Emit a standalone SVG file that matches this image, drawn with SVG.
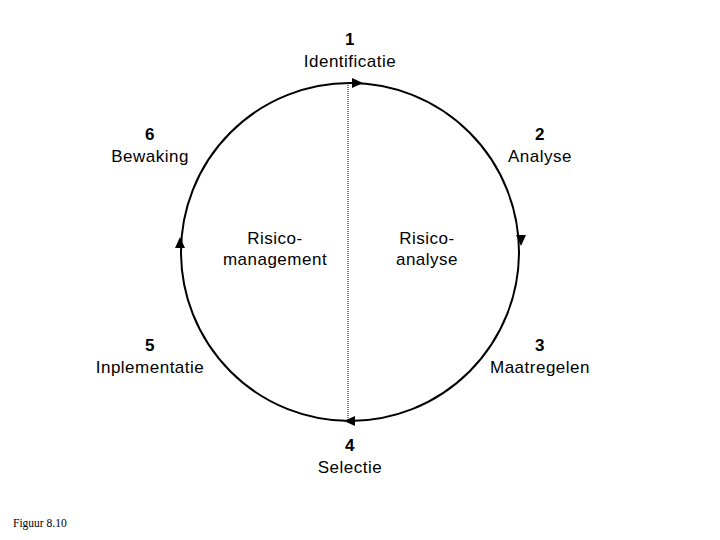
<svg xmlns="http://www.w3.org/2000/svg" width="720" height="540" viewBox="0 0 720 540">
<style>
.t{font-family:"Liberation Sans",Arial,sans-serif;font-size:17px;letter-spacing:0.5px;fill:#000;text-anchor:middle}
.n{font-weight:bold}
.cap{font-family:"Liberation Serif","Times New Roman",serif;font-size:11.5px;fill:#000}
.ah{fill:#000}
</style>
<rect width="720" height="540" fill="#fff"/>
<g id="connectors">
<circle cx="350" cy="252" r="169" fill="none" stroke="#000" stroke-width="2"/>
<line x1="348" y1="85" x2="348" y2="420" stroke="#000" stroke-width="1" stroke-dasharray="1,1"/>
<polygon class="ah" points="363,83 352,78 352,88"/>
<polygon class="ah" points="521,246 516,235 526,235"/>
<polygon class="ah" points="344,421 355,416 355,426"/>
<polygon class="ah" points="180,237 175,248 185,248"/>
</g>
<g id="n1"><text class="t n" x="350" y="45">1</text><text class="t" x="350" y="67">Identificatie</text></g>
<g id="n2"><text class="t n" x="540" y="140">2</text><text class="t" x="540" y="162">Analyse</text></g>
<g id="n3"><text class="t n" x="540" y="351">3</text><text class="t" x="540" y="373">Maatregelen</text></g>
<g id="n4"><text class="t n" x="350" y="451">4</text><text class="t" x="350" y="473">Selectie</text></g>
<g id="n5"><text class="t n" x="150" y="351">5</text><text class="t" x="150" y="373">Inplementatie</text></g>
<g id="n6"><text class="t n" x="150" y="140">6</text><text class="t" x="150" y="162">Bewaking</text></g>
<g id="rm"><text class="t" x="275" y="244">Risico-</text><text class="t" x="275" y="265">management</text></g>
<g id="ra"><text class="t" x="427" y="244">Risico-</text><text class="t" x="427" y="265">analyse</text></g>
<text class="cap" x="13" y="527">Figuur 8.10</text>
</svg>
